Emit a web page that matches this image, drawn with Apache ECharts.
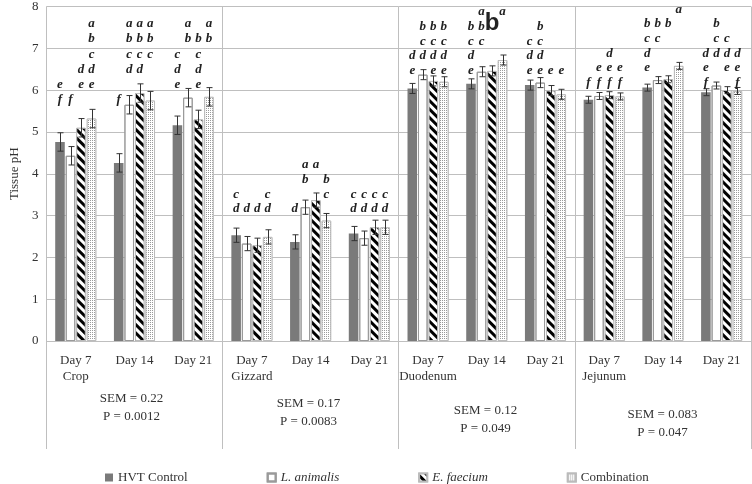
<!DOCTYPE html>
<html><head><meta charset="utf-8">
<script src="https://cdn.jsdelivr.net/npm/echarts@6/dist/echarts.min.js"></script>
<style>html,body{margin:0;padding:0;background:#fff}#c{width:752px;height:484px}</style>
</head><body><div id="c"></div>
<script>
// ---------- DATA ----------
const tissues = ['Crop', 'Gizzard', 'Duodenum', 'Jejunum'];
const days = ['Day 7', 'Day 14', 'Day 21'];
const seriesNames = ['HVT Control', 'L. animalis', 'E. faecium', 'Combination'];
const yTicks = [0, 1, 2, 3, 4, 5, 6, 7, 8];

const hvtControl  = [4.76, 4.26, 5.16, 2.53, 2.37, 2.57, 6.04, 6.15, 6.12, 5.77, 6.06, 5.95];
const lAnimalis   = [4.43, 5.65, 5.82, 2.33, 3.20, 2.46, 6.37, 6.44, 6.18, 5.86, 6.24, 6.11];
const eFaecium    = [5.10, 5.93, 5.30, 2.29, 3.37, 2.72, 6.22, 6.46, 5.99, 5.88, 6.26, 6.00];
const combination = [5.32, 5.75, 5.84, 2.49, 2.88, 2.72, 6.20, 6.72, 5.90, 5.85, 6.58, 5.98];

const semValues = [0.22, 0.17, 0.12, 0.083];
const pValues = ['0.0012', '0.0083', '0.049', '0.047'];

// significance letters (uppercase = the oversized "b" in the source)
const hvtLetters = ['ef', 'f', 'cde', 'cd', 'd', 'cd', 'de', 'bcde', 'cde', 'f', 'bcde', 'def'];
const laLetters  = ['f', 'abcd', 'ab', 'd', 'ab', 'cd', 'bcd', 'abc', 'bcde', 'ef', 'bc', 'bcd'];
const efLetters  = ['de', 'abcd', 'bcde', 'd', 'a', 'cd', 'bcde', 'B', 'e', 'def', 'b', 'cde'];
const coLetters  = ['abcde', 'abc', 'ab', 'cd', 'bc', 'cd', 'bcde', 'a', 'e', 'ef', 'a', 'def'];

// ---------- LAYOUT / STYLE ----------
const FONT = '"Liberation Serif", "Times New Roman", serif';
const TXT = '#333';
const GRID = { left: 43, right: 1, top: 3, bottom: 143 };
const letterTop = [7.58, 4.22, 7.88, 7.93];
const letterStep = [0.36, 0.355, 0.355, 0.35];
const semTextTop = [390, 395, 402, 406];

const categories = [];
tissues.forEach(t => days.forEach(d => categories.push(t + '|' + d)));

const values = [hvtControl, lAnimalis, eFaecium, combination];
const letters = [hvtLetters, laLetters, efLetters, coLetters];

function barCenter(api, i, si) {
  const band = api.size([1, 0])[0];
  const w = band * 0.7 / 4.3;
  const pitch = w * 1.1;
  return api.coord([i, 0])[0] + (si - 1.5) * pitch;
}

function errSeries(si) {
  return {
    type: 'custom', z: 5, silent: true,
    data: values[si].map((v, i) => [i, v, semValues[Math.floor(i / 3)]]),
    encode: { x: 0, y: 1 },
    renderItem: (params, api) => {
      const i = api.value(0), v = api.value(1), e = api.value(2);
      const cx = Math.round(barCenter(api, i, si)) + 0.5;
      const yT = api.coord([i, v + e])[1], yB = api.coord([i, v - e])[1];
      const cap = 3, st = { stroke: '#333', lineWidth: 1 };
      return { type: 'group', children: [
        { type: 'line', shape: { x1: cx, y1: yT, x2: cx, y2: yB }, style: st },
        { type: 'line', shape: { x1: cx - cap, y1: yT, x2: cx + cap, y2: yT }, style: st },
        { type: 'line', shape: { x1: cx - cap, y1: yB, x2: cx + cap, y2: yB }, style: st }
      ] };
    }
  };
}

function letterSeries(si) {
  return {
    type: 'custom', z: 6, silent: true,
    data: values[si].map((v, i) => [i, v]),
    encode: { x: 0, y: 1 },
    renderItem: (params, api) => {
      const i = api.value(0), t = Math.floor(i / 3);
      const cx = barCenter(api, i, si);
      const children = [];
      for (const ch of letters[si][i]) {
        const big = ch !== ch.toLowerCase();
        const lc = ch.toLowerCase();
        const k = lc.charCodeAt(0) - 97;
        const y = api.coord([i, letterTop[t] - k * letterStep[t]])[1];
        children.push({
          type: 'text', x: cx, y: big ? y - 3 : y,
          style: {
            text: lc, fill: '#222', align: 'center', verticalAlign: 'middle',
            font: big ? 'bold 24px "Liberation Sans", Arial, sans-serif' : 'italic bold 13px ' + FONT
          }
        });
      }
      return { type: 'group', children };
    }
  };
}

const NO_DECAL = { symbol: 'none', dashArrayX: [1, 0], dashArrayY: [1, 0] };
const barStyles = [
  { color: '#7a7a7a', decal: NO_DECAL },
  { color: '#ffffff', borderColor: '#9a9a9a', borderWidth: 1, decal: NO_DECAL },
  { color: '#ffffff', borderColor: '#bbbbbb', borderWidth: 1,
    decal: { symbol: 'rect', symbolSize: 1, dashArrayX: [1, 0], dashArrayY: [3, 3], rotation: Math.PI / 4, color: '#000', backgroundColor: '#fff' } },
  { color: '#ffffff', borderColor: '#bbbbbb', borderWidth: 1,
    decal: { symbol: 'rect', symbolSize: 1, dashArrayX: [1, 1], dashArrayY: [1, 1], color: '#9a9a9a', backgroundColor: '#fff' } }
];

const series = [];
seriesNames.forEach((n, si) => {
  series.push({
    name: n, type: 'bar', data: values[si], barGap: '10%', barCategoryGap: '30%',
    itemStyle: barStyles[si], z: 2
  });
});
for (let si = 0; si < 4; si++) series.push(errSeries(si));
for (let si = 0; si < 4; si++) series.push(letterSeries(si));

const chart = echarts.init(document.getElementById('c'), null, { renderer: 'canvas' });
chart.setOption({
  animation: false,
  aria: { enabled: true, decal: { show: true } },
  grid: GRID,
  legend: {
    data: seriesNames, left: 100, top: 466, itemWidth: 8, itemHeight: 8, itemGap: 79, icon: 'rect',
    textStyle: { fontFamily: FONT, fontSize: 13, color: TXT,
      rich: { i: { fontStyle: 'italic', fontFamily: FONT, fontSize: 13, color: TXT } } },
    formatter: n => (n.startsWith('L.') || n.startsWith('E.')) ? '{i|' + n + '}' : n
  },
  xAxis: [
    {
      type: 'category', data: categories, gridIndex: 0,
      axisLine: { show: true, lineStyle: { color: '#bfbfbf' } },
      axisTick: { show: false },
      axisLabel: {
        interval: 0, margin: 12, fontFamily: FONT, fontSize: 13, color: TXT, lineHeight: 16,
        formatter: v => { const p = v.split('|'); return p[1] === 'Day 7' ? p[1] + '\n' + p[0] : p[1]; }
      },
      splitLine: { show: false }
    },
    {
      type: 'category', data: tissues, gridIndex: 0, position: 'bottom',
      axisLine: { show: false },
      axisTick: { show: true, length: 108, interval: 0, lineStyle: { color: '#bfbfbf' } },
      axisLabel: { show: false },
      splitLine: { show: true, interval: 0, lineStyle: { color: '#bfbfbf' } }
    }
  ],
  yAxis: {
    type: 'value', min: 0, max: 8, interval: 1,
    name: 'Tissue pH', nameLocation: 'middle', nameGap: 25,
    nameTextStyle: { fontFamily: FONT, fontSize: 13, color: TXT },
    axisLine: { show: false }, axisTick: { show: false },
    axisLabel: { fontFamily: FONT, fontSize: 13, color: TXT, margin: 8,
      formatter: v => yTicks.includes(v) ? String(v) : '' },
    splitLine: { lineStyle: { color: '#bfbfbf' } }
  },
  graphic: tissues.map((t, g) => ({
    type: 'text', x: GRID.left + (752 - GRID.left - GRID.right) / 4 * (g + 0.5), y: semTextTop[g],
    style: { text: 'SEM = ' + semValues[g] + '\nP = ' + pValues[g], align: 'center', verticalAlign: 'top',
      font: '13px ' + FONT, fill: TXT, lineHeight: 18 }
  })),
  series
});
</script></body></html>
